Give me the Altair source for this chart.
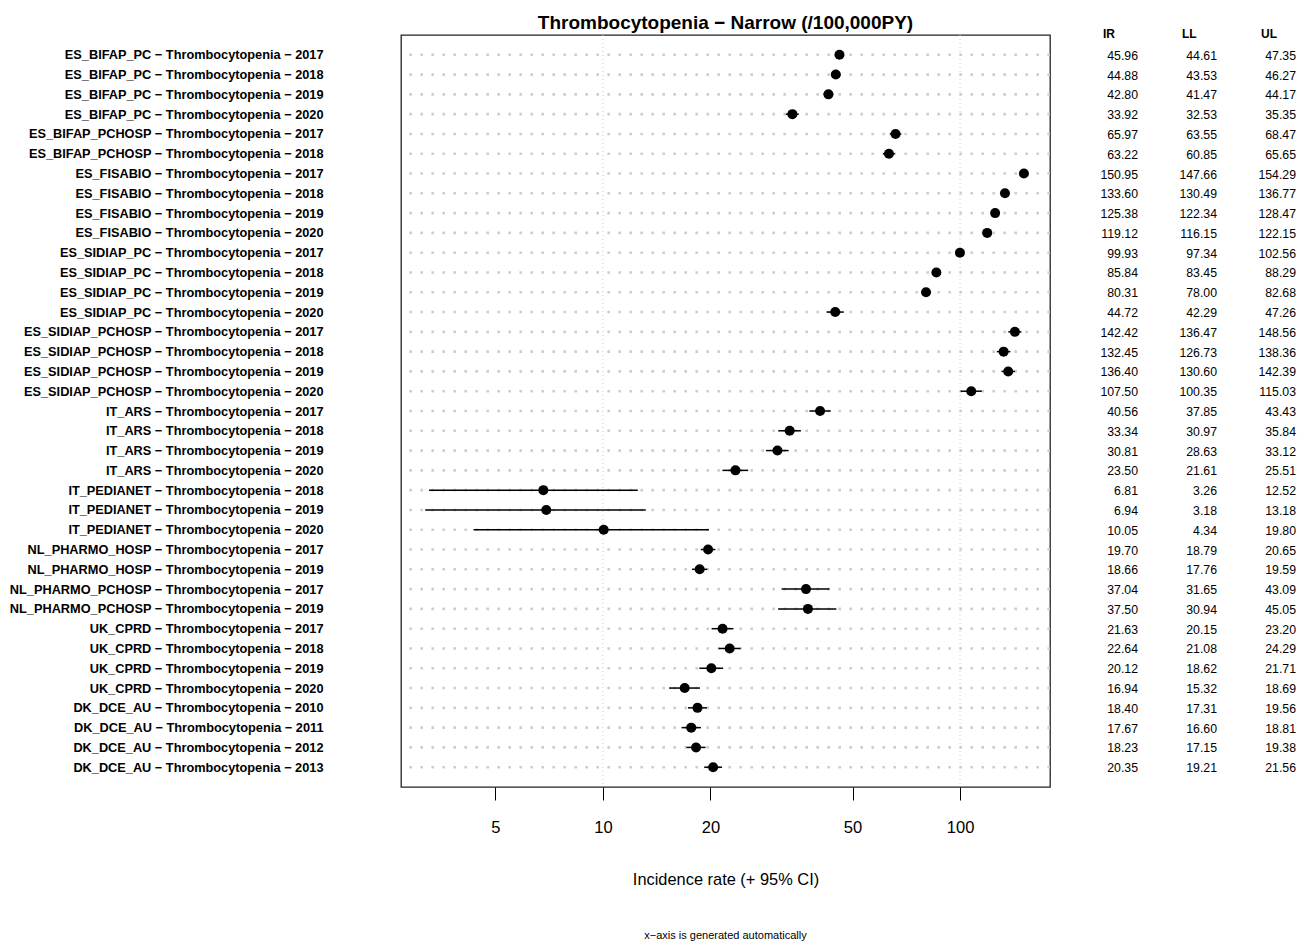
import json
import altair as alt
import pandas as pd

# ---------------- data ----------------
sources = (["ES_BIFAP_PC"] * 4 + ["ES_BIFAP_PCHOSP"] * 2 + ["ES_FISABIO"] * 4 +
           ["ES_SIDIAP_PC"] * 4 + ["ES_SIDIAP_PCHOSP"] * 4 + ["IT_ARS"] * 4 +
           ["IT_PEDIANET"] * 3 + ["NL_PHARMO_HOSP"] * 2 + ["NL_PHARMO_PCHOSP"] * 2 +
           ["UK_CPRD"] * 4 + ["DK_DCE_AU"] * 4)
years = [2017, 2018, 2019, 2020,
         2017, 2018,
         2017, 2018, 2019, 2020,
         2017, 2018, 2019, 2020,
         2017, 2018, 2019, 2020,
         2017, 2018, 2019, 2020,
         2018, 2019, 2020,
         2017, 2019,
         2017, 2019,
         2017, 2018, 2019, 2020,
         2010, 2011, 2012, 2013]
ir = [45.96, 44.88, 42.80, 33.92,
      65.97, 63.22,
      150.95, 133.60, 125.38, 119.12,
      99.93, 85.84, 80.31, 44.72,
      142.42, 132.45, 136.40, 107.50,
      40.56, 33.34, 30.81, 23.50,
      6.81, 6.94, 10.05,
      19.70, 18.66,
      37.04, 37.50,
      21.63, 22.64, 20.12, 16.94,
      18.40, 17.67, 18.23, 20.35]
ll = [44.61, 43.53, 41.47, 32.53,
      63.55, 60.85,
      147.66, 130.49, 122.34, 116.15,
      97.34, 83.45, 78.00, 42.29,
      136.47, 126.73, 130.60, 100.35,
      37.85, 30.97, 28.63, 21.61,
      3.26, 3.18, 4.34,
      18.79, 17.76,
      31.65, 30.94,
      20.15, 21.08, 18.62, 15.32,
      17.31, 16.60, 17.15, 19.21]
ul = [47.35, 46.27, 44.17, 35.35,
      68.47, 65.65,
      154.29, 136.77, 128.47, 122.15,
      102.56, 88.29, 82.68, 47.26,
      148.56, 138.36, 142.39, 115.03,
      43.43, 35.84, 33.12, 25.51,
      12.52, 13.18, 19.80,
      20.65, 19.59,
      43.09, 45.05,
      23.20, 24.29, 21.71, 18.69,
      19.56, 18.81, 19.38, 21.56]
x_ticks = [5, 10, 20, 50, 100]
x_limits = [2.72, 178.6]
grid_x = [10, 100]
table_cols = ["IR", "LL", "UL"]

title_text = "Thrombocytopenia \u2212 Narrow (/100,000PY)"
x_title = "Incidence rate (+ 95% CI)"
footer_text = "x\u2212axis is generated automatically"

labels = [f"{s} \u2212 Thrombocytopenia \u2212 {y}" for s, y in zip(sources, years)]
n = len(labels)
rows = list(range(1, n + 1))

df = pd.DataFrame({"row": rows, "label": labels, "IR": ir, "LL": ll, "UL": ul})

FONT = "Liberation Sans, Arial"

W, H = 649, 752

label_expr = "[" + ",".join(json.dumps(l) for l in labels) + "][datum.value - 1]"

yscale = alt.Scale(domain=[0, n + 1], reverse=True, nice=False, zero=False)
xscale = alt.Scale(type="log", domain=x_limits, nice=False)

yaxis = alt.Axis(values=rows, labelExpr=label_expr, ticks=False, domain=False, grid=False,
                 labelFont=FONT, labelFontSize=12.75, labelFontWeight="bold",
                 labelColor="black", labelPadding=78, labelLimit=500,
                 labelOverlap=False, labelFlush=False, title=None)
xaxis = alt.Axis(values=x_ticks, format="d", tickSize=13, tickColor="black", tickWidth=1,
                 domain=False, grid=False, labelFont=FONT, labelFontSize=16.5,
                 labelColor="black", labelPadding=19.5, labelFlush=False, labelOverlap=False,
                 title=x_title, titleFont=FONT, titleFontSize=16.4,
                 titleFontWeight="normal", titleColor="black", titlePadding=35)

base = alt.Chart(df)

hgrid = base.mark_rule(color="#cdcdcd", strokeWidth=2.6, strokeDash=[2.6, 8.4]).encode(
    y=alt.Y("row:Q", scale=yscale, axis=yaxis)
)

vgrid = alt.Chart(pd.DataFrame({"IR": grid_x})).mark_rule(
    color="#cccccc", strokeWidth=1, strokeDash=[1, 3]
).encode(x=alt.X("IR:Q", scale=xscale, axis=xaxis))

bars = base.mark_rule(color="black", strokeWidth=1.5).encode(
    x=alt.X("LL:Q", scale=xscale, axis=xaxis),
    x2="UL:Q",
    y=alt.Y("row:Q", scale=yscale, axis=yaxis),
)

points = base.mark_circle(color="black", opacity=1, size=100).encode(
    x=alt.X("IR:Q", scale=xscale, axis=xaxis),
    y=alt.Y("row:Q", scale=yscale, axis=yaxis),
)

footer = alt.Chart(pd.DataFrame({"t": [footer_text]})).mark_text(
    font=FONT, fontSize=11, color="black", align="center", baseline="middle"
).encode(text="t:N", x=alt.value(W / 2), y=alt.value(H + 149))

main = alt.layer(vgrid, hgrid, bars, points, footer).properties(
    width=W, height=H,
    title=alt.TitleParams(title_text, font=FONT, fontSize=19, fontWeight="bold",
                          color="black", anchor="middle", frame="group", offset=2),
    view=alt.ViewBackground(stroke="#222222", strokeWidth=1.3),
)

# table on the right
tbl_rows = []
for r, a, b, c in zip(rows, ir, ll, ul):
    for col, v in zip(table_cols, (a, b, c)):
        tbl_rows.append({"row": r, "col": col, "val": f"{v:.2f}"})
tdf = pd.DataFrame(tbl_rows)

tx = alt.X("col:N", scale=alt.Scale(type="point", domain=table_cols, padding=0), axis=None)

tvals = alt.Chart(tdf).mark_text(font=FONT, fontSize=12.3, color="black", align="right",
                                 baseline="middle", dy=1).encode(
    x=tx, y=alt.Y("row:Q", scale=yscale, axis=None), text="val:N"
)
theads = alt.Chart(pd.DataFrame({"col": table_cols})).mark_text(
    font=FONT, fontSize=12, fontWeight="bold", color="black", align="left",
    baseline="middle", dx=-35
).encode(x=tx, y=alt.value(-1.5), text="col:N")

table = alt.layer(tvals, theads).properties(
    width=158, height=H, view=alt.ViewBackground(stroke="transparent")
)

chart = alt.hconcat(main, table, spacing=88, bounds="flush").properties(
    padding={"left": 8, "top": 12, "right": 5, "bottom": 0},
    background="white",
)

chart.save("out.html", embed_options={"renderer": "svg", "actions": False})
